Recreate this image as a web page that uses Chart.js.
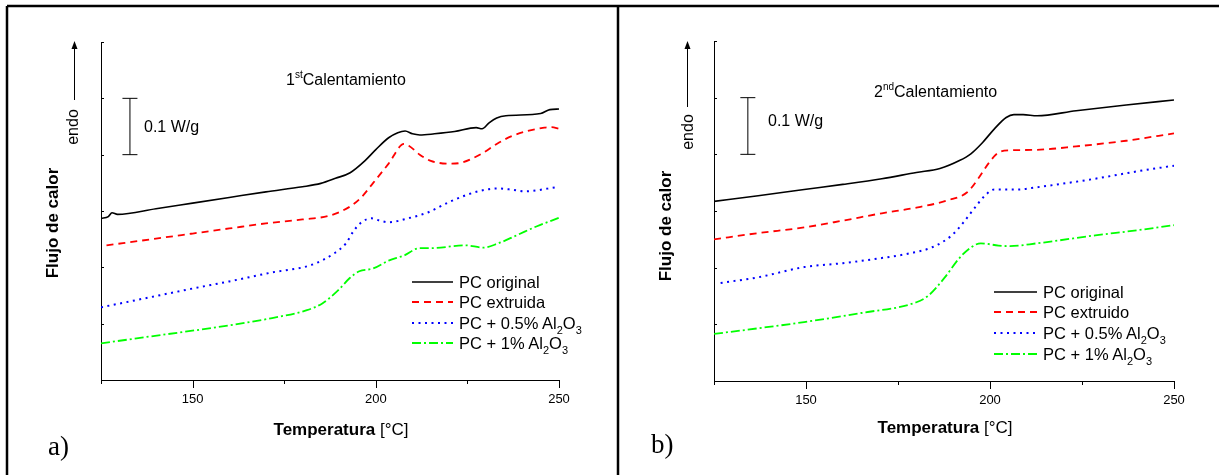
<!DOCTYPE html>
<html><head><meta charset="utf-8">
<script src="https://cdn.jsdelivr.net/npm/chart.js"></script>
<style>
body{margin:0;width:1219px;height:475px;overflow:hidden;background:#fff;font-family:"Liberation Sans",Arial,sans-serif;position:relative;color:#000}
canvas{position:absolute;top:0}
.t{position:absolute;white-space:nowrap;line-height:1}
.rot{transform:translate(-50%,-50%) rotate(-90deg)}
.sup{font-size:10px;position:relative;top:-7px}
.sub{font-size:11px;position:relative;top:5px}
svg{position:absolute;left:0;top:0}
</style></head><body>
<canvas id="ca" width="610" height="475" style="left:0"></canvas>
<canvas id="cb" width="609" height="475" style="left:610px"></canvas>

<div class="t rot" style="left:73px;top:127px;font-size:16px">endo</div>
<div class="t rot" style="left:52px;top:223px;font-size:17px;font-weight:bold">Flujo de calor</div>
<div class="t" style="left:286px;top:72px;font-size:16px">1<span class="sup">st</span>Calentamiento</div>
<div class="t" style="left:144px;top:119px;font-size:16px">0.1 W/g</div>
<div class="t" style="left:459px;top:274px;font-size:16.5px">PC original</div>
<div class="t" style="left:459px;top:294px;font-size:16.5px">PC extruida</div>
<div class="t" style="left:459px;top:315px;font-size:16.5px">PC + 0.5% Al<span class="sub">2</span>O<span class="sub">3</span></div>
<div class="t" style="left:459px;top:335px;font-size:16.5px">PC + 1% Al<span class="sub">2</span>O<span class="sub">3</span></div>
<div class="t" style="left:341px;top:429px;font-size:17px;transform:translate(-50%,-50%)"><b>Temperatura</b> [°C]</div>
<div class="t" style="left:48px;top:433px;font-size:27px;font-family:'Liberation Serif','Times New Roman',serif">a)</div>

<div class="t rot" style="left:688px;top:132px;font-size:16px">endo</div>
<div class="t rot" style="left:665px;top:226px;font-size:17px;font-weight:bold">Flujo de calor</div>
<div class="t" style="left:874px;top:84px;font-size:16px">2<span class="sup">nd</span>Calentamiento</div>
<div class="t" style="left:768px;top:113px;font-size:16px">0.1 W/g</div>
<div class="t" style="left:1043px;top:284px;font-size:16.5px">PC original</div>
<div class="t" style="left:1043px;top:304px;font-size:16.5px">PC extruido</div>
<div class="t" style="left:1043px;top:325px;font-size:16.5px">PC + 0.5% Al<span class="sub">2</span>O<span class="sub">3</span></div>
<div class="t" style="left:1043px;top:346px;font-size:16.5px">PC + 1% Al<span class="sub">2</span>O<span class="sub">3</span></div>
<div class="t" style="left:945px;top:427px;font-size:17px;transform:translate(-50%,-50%)"><b>Temperatura</b> [°C]</div>
<div class="t" style="left:651px;top:431px;font-size:27px;font-family:'Liberation Serif','Times New Roman',serif">b)</div>

<svg width="1219" height="475">
  <g stroke="#000" stroke-width="2.5" fill="none">
    <line x1="7" y1="6" x2="1219" y2="6"/>
    <line x1="7" y1="6" x2="7" y2="475"/>
    <line x1="618" y1="6" x2="618" y2="475"/>
  </g>
  <g stroke="#000" stroke-width="1">
    <line x1="74.5" y1="100" x2="74.5" y2="47"/>
    <line x1="687.5" y1="107" x2="687.5" y2="47"/>
  </g>
  <polygon points="74.5,41 71.5,49 77.5,49" fill="#000"/>
  <polygon points="687.5,41 684.5,49 690.5,49" fill="#000"/>
  <g stroke-width="2" fill="none">
    <line x1="412" y1="282" x2="453" y2="282" stroke="#000" stroke-width="1.6"/>
    <line x1="412" y1="302" x2="453" y2="302" stroke="#f00" stroke-dasharray="7,5"/>
    <line x1="412" y1="323" x2="453" y2="323" stroke="#00f" stroke-dasharray="2,4.5"/>
    <line x1="412" y1="343" x2="453" y2="343" stroke="#0f0" stroke-dasharray="9,3,2,3"/>
    <line x1="994" y1="292" x2="1037" y2="292" stroke="#000" stroke-width="1.6"/>
    <line x1="994" y1="312" x2="1037" y2="312" stroke="#f00" stroke-dasharray="7,5"/>
    <line x1="994" y1="333" x2="1037" y2="333" stroke="#00f" stroke-dasharray="2,4.5"/>
    <line x1="994" y1="354" x2="1037" y2="354" stroke="#0f0" stroke-dasharray="9,3,2,3"/>
  </g>
</svg>

<script>
// ---- axis settings ----
const X_MIN = 125, X_MAX = 250, X_STEP = 25;
const Y_MIN = 0, Y_MAX = 0.6, Y_STEP = 0.1;
const TICK_LABELS = ['150', '200', '250'];

// ---- panel a) 1st heating ----
const a_orig_T = [125,127,128,129.5,140,150,160,170,180,185,189,193,197,200,203.5,206,208,210,212,216,221.5,227.4,229,231,233,235.5,245,247.5,250];
const a_orig_Q = [0.287,0.290,0.297,0.294,0.304,0.314,0.324,0.334,0.343,0.349,0.358,0.368,0.389,0.409,0.430,0.439,0.442,0.437,0.435,0.437,0.441,0.448,0.446,0.457,0.465,0.469,0.473,0.480,0.481];
const a_extr_T = [126.5,140,150,160,170,180,187.5,193,196,199.3,203.5,207.7,209,212,215,220.5,223.5,229,233,237.5,246,248,250];
const a_extr_Q = [0.239,0.251,0.260,0.269,0.278,0.285,0.292,0.308,0.324,0.350,0.384,0.419,0.416,0.400,0.389,0.384,0.386,0.402,0.419,0.434,0.448,0.449,0.446];
const a_al05_T = [125,137,150.5,160,171.7,182.3,188.7,191.8,194,196.1,198.8,201,203.5,208.8,214,220.4,225,228,233,237,240.6,250];
const a_al05_Q = [0.129,0.145,0.163,0.175,0.191,0.204,0.225,0.242,0.265,0.280,0.287,0.283,0.280,0.287,0.297,0.317,0.329,0.335,0.340,0.338,0.335,0.343];
const a_al1_T = [125,137,150.5,160,171.7,181.2,185.4,189.7,192.9,195.5,199.3,203.5,207.7,211.9,215,224.5,229.3,233.2,238.5,244,250];
const a_al1_Q = [0.065,0.076,0.088,0.097,0.110,0.124,0.136,0.159,0.181,0.193,0.198,0.212,0.221,0.234,0.234,0.239,0.235,0.242,0.257,0.273,0.288];
const a_bar_T = [132.9, 132.9];
const a_bar_Q = [0.4, 0.5];

// ---- panel b) 2nd heating ----
const b_orig_T = [125,137,149.5,160,170.6,180,186.4,191.7,194.8,198,201.2,204.4,206.5,209,212.8,223.4,237,250];
const b_orig_Q = [0.317,0.327,0.338,0.347,0.357,0.368,0.375,0.389,0.401,0.421,0.445,0.465,0.470,0.470,0.468,0.477,0.487,0.496];
const b_extr_T = [125,137,149.5,160,170.6,180,188.6,193.8,197,199.6,202.3,205.4,212.8,223.4,237,250];
const b_extr_Q = [0.250,0.261,0.271,0.283,0.296,0.306,0.319,0.333,0.359,0.384,0.403,0.407,0.408,0.414,0.424,0.437];
const b_al05_T = [126.8,137,149.5,160,170.6,178,184.3,189.6,192.8,195.9,198.6,201.2,207.5,212.8,228.6,240,250];
const b_al05_Q = [0.173,0.183,0.201,0.208,0.217,0.225,0.236,0.257,0.280,0.306,0.327,0.338,0.338,0.342,0.357,0.370,0.380];
const b_al1_T = [125,137,149.5,165,180,183.3,187.5,191.7,194.9,197.5,202.3,205.4,212.8,228.6,240,250];
const b_al1_Q = [0.083,0.093,0.104,0.120,0.139,0.151,0.181,0.217,0.236,0.243,0.239,0.238,0.243,0.257,0.266,0.275];
const b_bar_T = [134.2, 134.2];
const b_bar_Q = [0.4, 0.5];

function pts(T, Q) { return T.map((t, i) => ({ x: t, y: Q[i] })); }

const tickMarks = {
  id: 'tickMarks',
  afterDraw(chart) {
    const { ctx, chartArea: a, scales: { x, y } } = chart;
    ctx.save();
    ctx.strokeStyle = '#000';
    ctx.lineWidth = 1;
    ctx.beginPath();
    x.ticks.forEach(t => {
      const px = Math.round(x.getPixelForValue(t.value)) + 0.5;
      const len = (t.value % 50 === 0) ? 8 : 4;
      ctx.moveTo(px, a.bottom);
      ctx.lineTo(px, a.bottom + len);
    });
    y.ticks.forEach(t => {
      const py = Math.round(y.getPixelForValue(t.value)) + 0.5;
      ctx.moveTo(a.left, py);
      ctx.lineTo(a.left + 3, py);
    });
    ctx.stroke();
    ctx.restore();
  }
};

function makeChart(id, s, pad) {
  const line = (data, color, dash, w) => ({
    data, borderColor: color, borderWidth: w, borderDash: dash,
    pointRadius: 0, fill: false, tension: 0.4, cubicInterpolationMode: 'monotone'
  });
  new Chart(document.getElementById(id), {
    type: 'line',
    data: {
      datasets: [
        line(pts(s.orig[0], s.orig[1]), '#000000', [], 1.6),
        line(pts(s.extr[0], s.extr[1]), '#ff0000', [7, 5], 1.8),
        line(pts(s.al05[0], s.al05[1]), '#0000ff', [2, 4.5], 2),
        line(pts(s.al1[0], s.al1[1]), '#00ff00', [9, 3, 2, 3], 1.8),
        {
          data: pts(s.bar[0], s.bar[1]), borderColor: '#000', borderWidth: 1,
          pointStyle: 'line', pointRadius: 7.5, pointBorderColor: '#000', pointBorderWidth: 1,
          fill: false, tension: 0
        }
      ]
    },
    options: {
      responsive: false, animation: false, events: [],
      layout: { padding: pad },
      plugins: { legend: { display: false }, tooltip: { enabled: false } },
      scales: {
        x: {
          type: 'linear', min: X_MIN, max: X_MAX,
          grid: { display: false },
          border: { display: true, color: '#000', width: 1 },
          ticks: {
            stepSize: X_STEP, autoSkip: false, maxRotation: 0, padding: 4,
            color: '#000', font: { family: '"Liberation Sans", Arial, sans-serif', size: 13 },
            callback: v => TICK_LABELS.includes(String(v)) ? String(v) : ''
          },
          afterFit: sc => { sc.height = 40; }
        },
        y: {
          type: 'linear', min: Y_MIN, max: Y_MAX,
          grid: { display: false },
          border: { display: true, color: '#000', width: 1 },
          ticks: { display: false, stepSize: Y_STEP },
          afterFit: sc => { sc.width = 0; }
        }
      }
    },
    plugins: [tickMarks]
  });
}

makeChart('ca', {
  orig: [a_orig_T, a_orig_Q], extr: [a_extr_T, a_extr_Q],
  al05: [a_al05_T, a_al05_Q], al1: [a_al1_T, a_al1_Q], bar: [a_bar_T, a_bar_Q]
}, { left: 101, right: 51, top: 42, bottom: 55 });

makeChart('cb', {
  orig: [b_orig_T, b_orig_Q], extr: [b_extr_T, b_extr_Q],
  al05: [b_al05_T, b_al05_Q], al1: [b_al1_T, b_al1_Q], bar: [b_bar_T, b_bar_Q]
}, { left: 104, right: 45, top: 41, bottom: 54 });
</script>
</body></html>
